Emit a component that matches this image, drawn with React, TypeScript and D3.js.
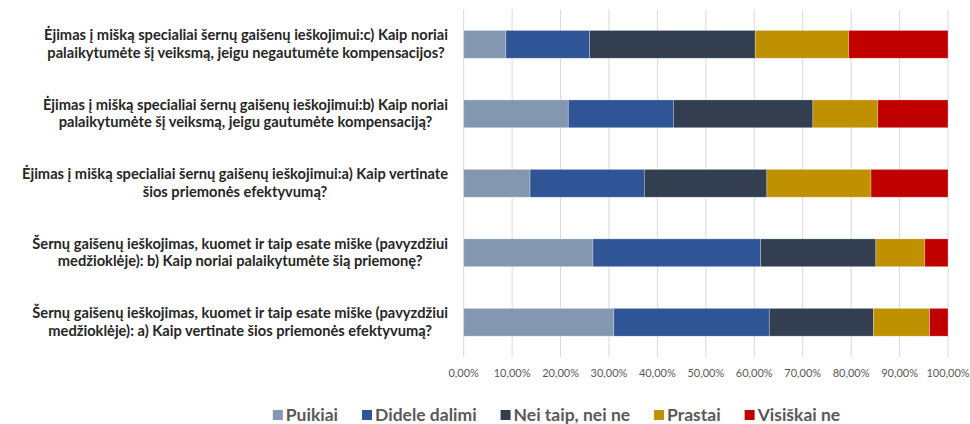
import React, { useEffect, useRef } from 'react';
import * as d3 from 'd3';

// category labels, top to bottom, already split into the two lines shown
const categoryLines = [
  ['Ėjimas į mišką specialiai šernų gaišenų ieškojimui:c) Kaip noriai', 'palaikytumėte šį veiksmą, jeigu negautumėte kompensacijos?'],
  ['Ėjimas į mišką specialiai šernų gaišenų ieškojimui:b) Kaip noriai', 'palaikytumėte šį veiksmą, jeigu gautumėte kompensaciją?'],
  ['Ėjimas į mišką specialiai šernų gaišenų ieškojimui:a) Kaip vertinate', 'šios priemonės efektyvumą?'],
  ['Šernų gaišenų ieškojimas, kuomet ir taip esate miške (pavyzdžiui', 'medžioklėje): b) Kaip noriai palaikytumėte šią priemonę?'],
  ['Šernų gaišenų ieškojimas, kuomet ir taip esate miške (pavyzdžiui', 'medžioklėje): a) Kaip vertinate šios priemonės efektyvumą?'],
];

const seriesNames = ['Puikiai', 'Didele dalimi', 'Nei taip, nei ne', 'Prastai', 'Visiškai ne'];

// percentages per category
const puikiai = [8.7, 21.6, 13.7, 26.7, 31.0];
const dideleDalimi = [17.3, 21.7, 23.6, 34.6, 32.1];
const neiTaipNeiNe = [34.2, 28.8, 25.3, 23.8, 21.5];
const prastai = [19.3, 13.4, 21.5, 10.1, 11.6];
const visiskaiNe = [20.5, 14.5, 15.9, 4.8, 3.8];

const xTicks = [0, 10, 20, 30, 40, 50, 60, 70, 80, 90, 100];

const colors = ['#8497B0', '#2F5597', '#333F50', '#BF9000', '#C00000'];

const W = 970;
const H = 424;
const FONT = "Lato, 'Noto Sans', sans-serif";

const App = () => {
  const svgRef = useRef<SVGSVGElement>(null);

  useEffect(() => {
    const svg = d3.select(svgRef.current);
    svg.selectAll('*').remove();

    const margin = { left: 463.7, right: W - 948, top: 9.6, bottom: H - 357 };

    const x = d3.scaleLinear().domain([0, 100]).range([margin.left, W - margin.right]);
    const y = d3
      .scaleBand()
      .domain(categoryLines.map((_, i) => String(i)))
      .range([margin.top, H - margin.bottom])
      .paddingInner(0.6)
      .paddingOuter(0.3);

    const rows = categoryLines.map((_, i) => ({
      key: String(i),
      s0: puikiai[i],
      s1: dideleDalimi[i],
      s2: neiTaipNeiNe[i],
      s3: prastai[i],
      s4: visiskaiNe[i],
    }));
    const stacked = d3.stack<any>().keys(['s0', 's1', 's2', 's3', 's4'])(rows);

    // gridlines
    svg
      .append('g')
      .selectAll('line')
      .data(xTicks)
      .join('line')
      .attr('x1', d => x(d))
      .attr('x2', d => x(d))
      .attr('y1', margin.top)
      .attr('y2', H - margin.bottom)
      .attr('stroke', '#d9d9d9')
      .attr('stroke-width', 1);

    // bars
    svg
      .append('g')
      .selectAll('g')
      .data(stacked)
      .join('g')
      .attr('fill', (_, i) => colors[i])
      .selectAll('rect')
      .data(d => d)
      .join('rect')
      .attr('x', d => x(d[0]))
      .attr('width', d => x(d[1]) - x(d[0]))
      .attr('y', d => y(d.data.key)!)
      .attr('height', y.bandwidth())
      .attr('stroke', '#ffffff')
      .attr('stroke-opacity', 0.35)
      .attr('stroke-width', 0.75);

    // x tick labels
    svg
      .append('g')
      .selectAll('text')
      .data(xTicks)
      .join('text')
      .attr('x', d => x(d))
      .attr('y', 376.5)
      .attr('text-anchor', 'middle')
      .attr('font-family', FONT)
      .attr('font-size', 11)
      .attr('fill', '#595959')
      .text(d => d.toFixed(2).replace('.', ',') + '%');

    // category labels: block right-aligned to axis, lines centered in block
    const labelRight = 448;
    const catG = svg.append('g');
    categoryLines.forEach((lines, i) => {
      const cy = y(String(i))! + y.bandwidth() / 2;
      const t = catG
        .append('text')
        .attr('font-family', FONT)
        .attr('font-size', 14.67)
        .attr('font-weight', 700)
        .attr('fill', '#262626')
        .attr('text-anchor', 'middle');
      const spans = lines.map((l, j) =>
        t.append('tspan').attr('y', cy - 4 + j * 17.5).text(l)
      );
      const maxW = d3.max(spans, s => (s.node() as SVGTSpanElement).getComputedTextLength()) || 0;
      spans.forEach(s => s.attr('x', labelRight - maxW / 2));
    });

    // legend
    const legend = svg.append('g');
    const items = seriesNames.map((name, i) => {
      const g = legend.append('g');
      g.append('rect').attr('width', 10).attr('height', 10).attr('y', 410).attr('fill', colors[i]);
      const txt = g
        .append('text')
        .attr('x', 13)
        .attr('y', 421)
        .attr('font-family', FONT)
        .attr('font-size', 17.5)
        .attr('font-weight', 700)
        .attr('fill', '#595959')
        .text(name);
      const w = 13 + (txt.node() as SVGTextElement).getComputedTextLength();
      return { g, w };
    });
    const gap = 24;
    const total = d3.sum(items, d => d.w) + gap * (items.length - 1);
    let cx = 556.5 - total / 2;
    items.forEach(it => {
      it.g.attr('transform', `translate(${cx},0)`);
      cx += it.w + gap;
    });
  }, []);

  return (
    <svg
      ref={svgRef}
      width={W}
      height={H}
      style={{ position: 'absolute', left: 0, top: 0, background: '#fff' }}
    />
  );
};

export default App;
